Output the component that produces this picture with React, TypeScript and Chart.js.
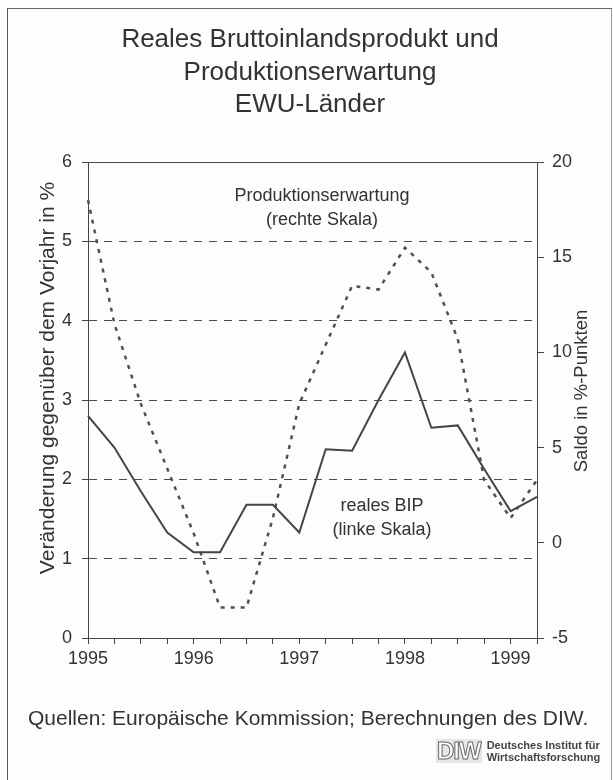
import React, { useEffect, useRef } from 'react';
import { Chart, registerables } from 'chart.js';

Chart.register(...registerables);

const FONT = '"Liberation Sans", Arial, Helvetica, sans-serif';

const quarterLabels = ['1995', '', '', '', '1996', '', '', '', '1997', '', '', '', '1998', '', '', '', '1999', ''];
const bipValues = [2.8, 2.4, 1.85, 1.33, 1.08, 1.08, 1.68, 1.68, 1.33, 2.38, 2.36, 3.0, 3.6, 2.65, 2.68, 2.13, 1.6, 1.78];
const erwartungValues = [18.0, 11.5, 7.3, 3.9, 0.5, -3.4, -3.4, 1.3, 7.3, 10.4, 13.5, 13.3, 15.5, 14.2, 10.7, 3.3, 1.3, 3.3];
const leftAxisRange = [0, 6];
const leftAxisStep = 1;
const rightAxisRange = [-5, 20];
const rightAxisStep = 5;

const titleLines = ['Reales Bruttoinlandsprodukt und', 'Produktionserwartung', 'EWU-Länder'];
const leftAxisTitle = 'Veränderung gegenüber dem Vorjahr in %';
const rightAxisTitle = 'Saldo in %-Punkten';
const erwartungLabel = ['Produktionserwartung', '(rechte Skala)'];
const bipLabel = ['reales BIP', '(linke Skala)'];
const sourceText = 'Quellen: Europäische Kommission; Berechnungen des DIW.';
const logoLines = ['Deutsches Institut für', 'Wirtschaftsforschung'];

const TEXT = '#333333';
const LINE = '#454545';

const textPlugin = {
  id: 'chartTexts',
  afterDraw(chart: any) {
    const ctx = chart.ctx;
    ctx.save();
    ctx.fillStyle = TEXT;
    ctx.textAlign = 'center';
    ctx.textBaseline = 'middle';
    ctx.font = `26px ${FONT}`;
    titleLines.forEach((t, i) => ctx.fillText(t, 310, 40 + i * 32.5));

    ctx.font = `18px ${FONT}`;
    erwartungLabel.forEach((t, i) => ctx.fillText(t, 322, 196 + i * 24));
    bipLabel.forEach((t, i) => ctx.fillText(t, 382, 506 + i * 24));

    ctx.font = `21px ${FONT}`;
    ctx.save();
    ctx.translate(48, 378);
    ctx.rotate(-Math.PI / 2);
    ctx.fillText(leftAxisTitle, 0, 0);
    ctx.restore();
    ctx.font = `18.5px ${FONT}`;
    ctx.save();
    ctx.translate(582, 391);
    ctx.rotate(-Math.PI / 2);
    ctx.fillText(rightAxisTitle, 0, 0);
    ctx.restore();
    ctx.restore();
  },
};

export default function App() {
  const canvasRef = useRef<HTMLCanvasElement | null>(null);

  useEffect(() => {
    if (!canvasRef.current) return;
    const chart = new Chart(canvasRef.current, {
      type: 'line',
      data: {
        labels: quarterLabels,
        datasets: [
          {
            label: 'reales BIP',
            data: bipValues,
            yAxisID: 'y',
            borderColor: LINE,
            borderWidth: 2,
            pointRadius: 0,
            tension: 0,
            fill: false,
          },
          {
            label: 'Produktionserwartung',
            data: erwartungValues,
            yAxisID: 'y1',
            borderColor: '#505050',
            borderWidth: 2.5,
            borderDash: [4, 6],
            pointRadius: 0,
            tension: 0,
            fill: false,
          },
        ],
      },
      options: {
        responsive: false,
        animation: false,
        devicePixelRatio: 1,
        layout: { padding: { top: 162, bottom: 102, left: 0, right: 0 } },
        plugins: {
          legend: { display: false },
          title: { display: false },
          tooltip: { enabled: false },
        },
        scales: {
          x: {
            type: 'category',
            offset: false,
            grid: {
              drawOnChartArea: false,
              drawTicks: true,
              tickLength: 6,
              tickColor: LINE,
              color: LINE,
            },
            border: { display: true, color: LINE, width: 1 },
            ticks: {
              autoSkip: false,
              maxRotation: 0,
              minRotation: 0,
              padding: 4,
              color: TEXT,
              font: { family: FONT, size: 18 },
            },
            afterFit: (s: any) => {
              s.height = 40;
            },
          },
          y: {
            position: 'left',
            min: leftAxisRange[0],
            max: leftAxisRange[1],
            grid: {
              drawOnChartArea: true,
              drawTicks: true,
              tickLength: 6,
              tickColor: LINE,
              tickBorderDash: [],
              lineWidth: 1,
              color: (c: any) =>
                c.tick && c.tick.value === leftAxisRange[0] ? 'rgba(0,0,0,0)' : '#4a4a4a',
            },
            border: {
              display: true,
              color: LINE,
              width: 1,
              dash: (c: any) => (c.tick && c.tick.value === leftAxisRange[1] ? [] : [8, 7]),
            },
            ticks: {
              stepSize: leftAxisStep,
              padding: 10,
              color: TEXT,
              font: { family: FONT, size: 18 },
            },
            afterFit: (s: any) => {
              s.width = 88;
            },
          },
          y1: {
            position: 'right',
            min: rightAxisRange[0],
            max: rightAxisRange[1],
            grid: {
              drawOnChartArea: false,
              drawTicks: true,
              tickLength: 7,
              tickColor: LINE,
              color: LINE,
            },
            border: { display: true, color: LINE, width: 1 },
            ticks: {
              stepSize: rightAxisStep,
              padding: 8,
              color: TEXT,
              font: { family: FONT, size: 18 },
            },
            afterFit: (s: any) => {
              s.width = 76;
            },
          },
        },
      },
      plugins: [textPlugin],
    } as any);
    return () => chart.destroy();
  }, []);

  return (
    <div style={{ position: 'absolute', left: 0, top: 0, width: 613, height: 780, background: '#fdfdfd', overflow: 'hidden' }}>
      <div
        style={{
          position: 'absolute',
          left: 7,
          top: 8,
          width: 603,
          height: 800,
          borderLeft: '1px solid #555',
          borderTop: '1px solid #666',
          borderRight: '1px solid #999',
        }}
      />
      <canvas ref={canvasRef} width={613} height={780} style={{ position: 'absolute', left: 0, top: 0, display: 'block' }} />
      <div
        style={{
          position: 'absolute',
          left: 28,
          top: 705,
          fontFamily: FONT,
          fontSize: 21,
          lineHeight: '26px',
          color: TEXT,
          whiteSpace: 'nowrap',
        }}
      >
        {sourceText}
      </div>
      <div style={{ position: 'absolute', left: 436, top: 739, display: 'flex', alignItems: 'center', fontFamily: FONT }}>
        <div
          style={{
            fontSize: 24,
            fontWeight: 'bold',
            color: '#fff',
            WebkitTextStroke: '1px #666',
            letterSpacing: -1,
            lineHeight: '24px',
            background: '#e6e6e6',
            padding: '0 1px',
          }}
        >
          DIW
        </div>
        <div style={{ marginLeft: 5, fontSize: 11, lineHeight: '12px', color: '#444', fontWeight: 'bold' }}>
          <div>{logoLines[0]}</div>
          <div>{logoLines[1]}</div>
        </div>
      </div>
    </div>
  );
}
